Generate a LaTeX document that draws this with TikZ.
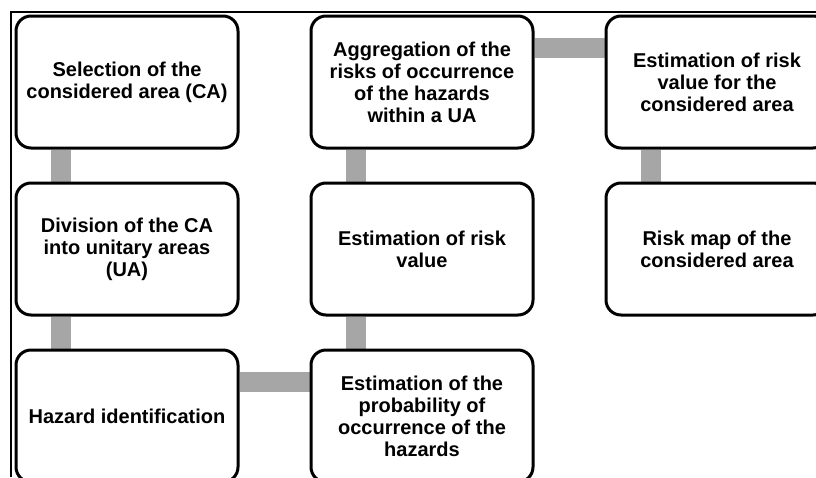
\documentclass[tikz,border=0pt]{standalone}
\usepackage{fontspec}
\setmainfont{Liberation Sans}
\usetikzlibrary{positioning, backgrounds}
\definecolor{linkgray}{HTML}{A6A6A6}

\begin{document}
\begin{tikzpicture}[
  x=1pt, y=-1pt,
  node distance=32pt and 70pt,
  box/.style={draw=black, fill=white, rounded corners=15pt, line width=3pt,
              minimum width=222pt, minimum height=132pt,
              font=\fontsize{20}{22}\selectfont\bfseries, align=center},
  link/.style={line width=20pt, color=linkgray},
  frame/.style={line width=2pt, color=black}
]
  \useasboundingbox (0,0) rectangle (816,477);

  \node[box] (select) at (127,82) {Selection of the\\considered area (CA)};
  \node[box, below=of select] (divide) {Division of the CA\\into unitary areas\\(UA)};
  \node[box, below=of divide] (hazard) {Hazard identification};
  \node[box, right=of hazard] (prob) {Estimation of the\\probability of\\occurrence of the\\hazards};
  \node[box, above=of prob] (risk) {Estimation of risk\\value};
  \node[box, above=of risk] (aggr) {Aggregation of the\\risks of occurrence\\of the hazards\\within a UA};
  \node[box, right=of aggr] (total) {Estimation of risk\\value for the\\considered area};
  \node[box, below=of total] (riskmap) {Risk map of the\\considered area};

  \begin{scope}[on background layer]
    \draw[frame] (11,477) |- (816,12);
    \draw[link] ([xshift=-66pt]select.south) -- ([xshift=-66pt]divide.north);
    \draw[link] ([xshift=-66pt]divide.south) -- ([xshift=-66pt]hazard.north);
    \draw[link] ([yshift=34pt]hazard.east) -- ([yshift=34pt]prob.west);
    \draw[link] ([xshift=-66pt]prob.north) -- ([xshift=-66pt]risk.south);
    \draw[link] ([xshift=-66pt]risk.north) -- ([xshift=-66pt]aggr.south);
    \draw[link] ([yshift=34pt]aggr.east) -- ([yshift=34pt]total.west);
    \draw[link] ([xshift=-66pt]total.south) -- ([xshift=-66pt]riskmap.north);
  \end{scope}
\end{tikzpicture}
\end{document}
